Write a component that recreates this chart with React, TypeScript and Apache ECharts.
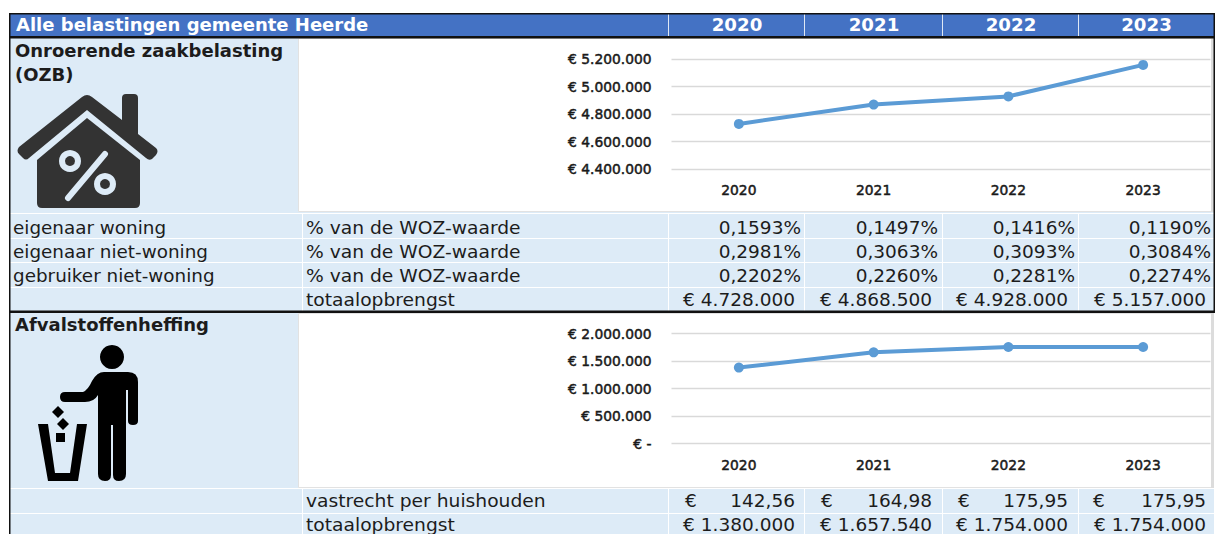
import React, { useEffect, useRef } from "react";
import * as echarts from "echarts";

const years = ["2020", "2021", "2022", "2023"];
const ozbValues = [4728000, 4868500, 4928000, 5157000];
const afvalValues = [1380000, 1657540, 1754000, 1754000];
const pctOwnerHome = ["0,1593%", "0,1497%", "0,1416%", "0,1190%"];
const pctOwnerOther = ["0,2981%", "0,3063%", "0,3093%", "0,3084%"];
const pctUserOther = ["0,2202%", "0,2260%", "0,2281%", "0,2274%"];
const ozbTotals = ["€ 4.728.000", "€ 4.868.500", "€ 4.928.000", "€ 5.157.000"];
const fixedRate = ["142,56", "164,98", "175,95", "175,95"];
const afvalTotals = ["€ 1.380.000", "€ 1.657.540", "€ 1.754.000", "€ 1.754.000"];

const FONT = "DejaVu Sans";
const BG = "#DDEBF7";
const INK = "#1c1c1c";
const colLeft = [669, 805, 943, 1079];
const colRight = [805, 943, 1079, 1214];
const pctRight = [801, 938, 1075, 1211];
const totRight = [795, 932, 1068, 1206];
const euroLeft = [685, 821, 958, 1093];

const fmtEuro = (v: number) => {
  if (v === 0) return "€ -";
  return "€ " + String(v).replace(/\B(?=(\d{3})+(?!\d))/g, ".");
};

echarts.graphic.registerShape(
  "houseBody",
  echarts.graphic.extendPath(
    "M87 118 L140 160 L140 203 Q140 208 135 208 L42 208 Q37 208 37 203 L37 160 Z",
    {}
  )
);
echarts.graphic.registerShape(
  "houseRoof",
  echarts.graphic.extendPath(
    "M19 147 L82 97 Q87 93 92 97 L122 120 L122 98 Q122 94 126 94 L134 94 Q138 94 138 98 L138 134 L156 148 Q159 151 156 155 L152 159 Q149 161 146 158 L87 110 L29 158 Q26 161 23 158 L19 154 Q16 151 19 147 Z",
    {}
  )
);
echarts.graphic.registerShape(
  "binShape",
  echarts.graphic.extendPath(
    "M38 424 L48 424 L55 473 L70 473 L77 424 L87 424 L78 481 L48 481 Z",
    {}
  )
);
echarts.graphic.registerShape(
  "personBody",
  echarts.graphic.extendPath(
    "M104 372 L128 372 Q138 372 138 382 L138 421 Q138 425 133 425 Q128 425 128 421 L128 390 L126 390 L126 474 Q126 481 119 481 Q113 481 113 475 L113 425 L111 425 L111 475 Q111 481 105 481 Q98 481 98 474 L98 395 Q94 402 85 402 L65 402 Q60 402 60 397 Q60 392 65 392 L83 392 Q88 390 92 381 Q97 372 104 372 Z",
    {}
  )
);

const text = (x: number, y: number, t: string, o: any = {}) => ({
  type: "text",
  x,
  y,
  scaleX: o.sx ?? 1,
  silent: true,
  style: {
    text: t,
    fontFamily: FONT,
    fontSize: o.size ?? 17,
    fontWeight: o.weight ?? "normal",
    fill: o.fill ?? INK,
    align: o.align ?? "left",
    verticalAlign: "middle",
  },
});
const rect = (x: number, y: number, width: number, height: number, fill: string) => ({
  type: "rect",
  silent: true,
  shape: { x, y, width, height },
  style: { fill },
});
const frame = (x: number, y: number, width: number, height: number) => ({
  type: "rect",
  silent: true,
  shape: { x, y, width, height },
  style: { fill: "#fff", stroke: "#e2e2e2", lineWidth: 1 },
});

const SX_LEFT = 1.08;
const SX_MID = 1.1;
const SX_NUM = 1.09;
const rows1 = [
  { a: "eigenaar woning", b: "% van de WOZ-waarde", c: pctOwnerHome, y: 228 },
  { a: "eigenaar niet-woning", b: "% van de WOZ-waarde", c: pctOwnerOther, y: 252 },
  { a: "gebruiker niet-woning", b: "% van de WOZ-waarde", c: pctUserOther, y: 276 },
];

function buildGraphic() {
  const els: any[] = [];
  els.push(rect(10, 14, 1204, 520, BG));
  els.push(rect(10, 14, 1204, 23, "#4472C4"));
  colLeft.forEach((x, i) => {
    els.push(rect(x - 1, 13, 1, 24, "#dfe8f5"));
    els.push(text((colLeft[i] + colRight[i]) / 2, 25.5, years[i], { align: "center", weight: "bold", fill: "#fff", size: 17, sx: 1.07 }));
  });
  els.push(text(16, 25.5, "Alle belastingen gemeente Heerde", { weight: "bold", fill: "#fff", size: 17, sx: 1.06 }));
  els.push(frame(298.5, 38.5, 915, 173));
  els.push(frame(298.5, 313.5, 915, 174));
  els.push(rect(1211, 38, 3, 174, "#dcdcdc"));
  els.push(rect(1211, 313, 3, 175, "#dcdcdc"));
  [213, 238, 262, 287, 488, 513].forEach((y) => els.push(rect(10, y, 1204, 1, "#fff")));
  [302, ...colLeft.map((x) => x - 1)].forEach((x) => {
    els.push(rect(x, 213, 1, 98, "#fff"));
    els.push(rect(x, 488, 1, 46, "#fff"));
  });
  els.push(rect(9, 13, 1206, 1.5, "#111"));
  els.push(rect(9, 36, 1206, 2.5, "#111"));
  els.push(rect(9, 310.5, 1206, 2.5, "#111"));
  els.push(rect(9, 13, 1.5, 521, "#111"));
  els.push(rect(1213.5, 13, 1.5, 300, "#111"));
  els.push(text(15, 51, "Onroerende zaakbelasting", { weight: "bold", size: 17, sx: 1.06 }));
  els.push(text(15, 75, "(OZB)", { weight: "bold", size: 17, sx: 1.06 }));
  els.push({ type: "houseRoof", silent: true, style: { fill: "#333" } });
  els.push({ type: "houseBody", silent: true, style: { fill: "#333" } });
  els.push({ type: "line", silent: true, shape: { x1: 105, y1: 154, x2: 68, y2: 198 }, style: { stroke: BG, lineWidth: 6, lineCap: "round" } });
  els.push({ type: "circle", silent: true, shape: { cx: 70, cy: 161, r: 8 }, style: { fill: "#333", stroke: BG, lineWidth: 6 } });
  els.push({ type: "circle", silent: true, shape: { cx: 105, cy: 184, r: 8 }, style: { fill: "#333", stroke: BG, lineWidth: 6 } });
  rows1.forEach((r) => {
    els.push(text(13, r.y, r.a, { sx: SX_LEFT }));
    els.push(text(306, r.y, r.b, { sx: SX_MID }));
    r.c.forEach((v, i) => els.push(text(pctRight[i], r.y, v, { align: "right", sx: SX_NUM })));
  });
  els.push(text(306, 300, "totaalopbrengst", { sx: SX_MID }));
  ozbTotals.forEach((v, i) => els.push(text(totRight[i], 300, v, { align: "right", sx: SX_NUM })));
  els.push(text(15, 325, "Afvalstoffenheffing", { weight: "bold", size: 17, sx: 1.06 }));
  els.push({ type: "circle", silent: true, shape: { cx: 112, cy: 357, r: 12 }, style: { fill: "#000" } });
  els.push({ type: "personBody", silent: true, style: { fill: "#000" } });
  els.push({ type: "polygon", silent: true, shape: { points: [[58, 406], [64, 412], [58, 418], [52, 412]] }, style: { fill: "#000" } });
  els.push({ type: "polygon", silent: true, shape: { points: [[63, 418], [69, 424], [63, 430], [57, 424]] }, style: { fill: "#000" } });
  els.push(rect(56, 433, 9, 9, "#000"));
  els.push({ type: "binShape", silent: true, style: { fill: "#000" } });
  els.push(text(306, 501, "vastrecht per huishouden", { sx: SX_MID }));
  fixedRate.forEach((v, i) => {
    els.push(text(euroLeft[i], 501, "€", { sx: SX_NUM }));
    els.push(text(totRight[i], 501, v, { align: "right", sx: SX_NUM }));
  });
  els.push(text(306, 525, "totaalopbrengst", { sx: SX_MID }));
  afvalTotals.forEach((v, i) => els.push(text(totRight[i], 525, v, { align: "right", sx: SX_NUM })));
  return els;
}

const axisLabel = (formatter?: any) => ({
  fontFamily: FONT,
  fontSize: 13.8,
  color: "#1a1a1a",
  textBorderColor: "#1a1a1a",
  textBorderWidth: 0.5,
  ...(formatter ? { formatter } : {}),
});

const yAxis = (gridIndex: number, min: number, max: number, interval: number) => ({
  type: "value",
  gridIndex,
  min,
  max,
  interval,
  axisLine: { show: false },
  axisTick: { show: false },
  splitLine: { lineStyle: { color: "#d9d9d9", width: 1.4 } },
  axisLabel: { ...axisLabel(fmtEuro), margin: 20 },
});
const xAxis = (gridIndex: number) => ({
  type: "category",
  gridIndex,
  data: years,
  axisLine: { show: false },
  axisTick: { show: false },
  axisLabel: { ...axisLabel(), margin: 14 },
});
const lineSeries = (i: number, data: number[]) => ({
  type: "line",
  xAxisIndex: i,
  yAxisIndex: i,
  data,
  symbol: "circle",
  symbolSize: 10,
  lineStyle: { color: "#5B9BD5", width: 4 },
  itemStyle: { color: "#5B9BD5" },
});

export default function App() {
  const ref = useRef<HTMLDivElement>(null);
  useEffect(() => {
    document.body.style.margin = "0";
    const chart = echarts.init(ref.current!, undefined, { renderer: "svg" });
    chart.setOption({
      animation: false,
      backgroundColor: "#fff",
      grid: [
        { left: 671.5, width: 539, top: 59, height: 110 },
        { left: 671.5, width: 539, top: 333.5, height: 110 },
      ],
      xAxis: [xAxis(0), xAxis(1)],
      yAxis: [yAxis(0, 4400000, 5200000, 200000), yAxis(1, 0, 2000000, 500000)],
      series: [lineSeries(0, ozbValues), lineSeries(1, afvalValues)],
      graphic: { elements: buildGraphic() },
    });
    return () => chart.dispose();
  }, []);
  return <div ref={ref} style={{ width: 1216, height: 534 }} />;
}
